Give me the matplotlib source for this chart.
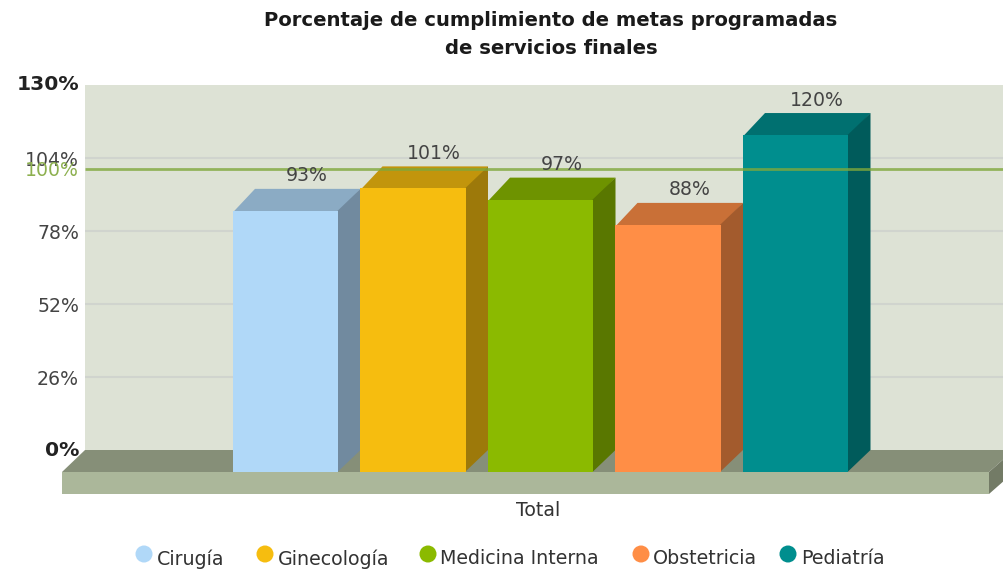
#!/usr/bin/env python

import matplotlib
matplotlib.use('Agg')

import matplotlib.pyplot as plt
import matplotlib.patches as patches
import matplotlib.colors as colors

plt.rcParams['font.family'] = 'DejaVu Sans'

categories = ["Cirugía", "Ginecología", "Medicina Interna", "Obstetricia", "Pediatría"]
values = [93, 101, 97, 88, 120]
bar_colors = ["#b0d8f8", "#f6bd0f", "#8bba00", "#ff8e46", "#008e8e"]
ticks = [0, 26, 52, 78, 104, 130]
target = 100
group_label = "Total"

# pixel layout of the fake 3d chart
W, H = 1004, 570
px_per_pct = 2.808
y0_px = 472          # front of the floor, value 0
depth = 22
bar_left = [233, 360.5, 488, 615.5, 743]
bar_w = 105.5
legend_dot_x = [144, 265, 428, 641, 788]
legend_text_x = [157, 278, 440, 653, 801]


def shade(c, f):
    r, g, b = colors.to_rgb(c)
    return (r * f, g * f, b * f)


fig = plt.figure(figsize=(W / 100, H / 100), dpi=100)
ax = fig.add_axes([0, 0, 1, 1])
ax.set_xlim(0, W)
# y axis is in percent, the bottom/top of the figure come from the pixel scale
ax.set_ylim((y0_px - H) / px_per_pct, y0_px / px_per_pct)
ax.axis('off')

d = depth / px_per_pct
slab = 22 / px_per_pct
wall_left = 85
floor_left, floor_right = 62, 989


def poly(pts, color, z):
    ax.add_patch(patches.Polygon(pts, closed=True, facecolor=color, edgecolor='none', zorder=z))


# wall
ax.add_patch(patches.Rectangle((wall_left, d), W - wall_left, 130, facecolor="#dde2d5",
                               edgecolor='none', zorder=1))
for t in ticks[1:-1]:
    ax.plot([wall_left, W], [t + d, t + d], color="#d0d4ce", lw=1.5, zorder=2, solid_capstyle='butt')

# floor
poly([(floor_left, 0), (wall_left, d), (W + 10, d), (floor_right, 0)], "#868f78", 3)
ax.add_patch(patches.Rectangle((floor_left, -slab), floor_right - floor_left, slab,
                               facecolor="#abb79a", edgecolor='none', zorder=3))
poly([(floor_right, 0), (W + 10, d), (W + 10, d - slab), (floor_right, -slab)], "#737b66", 3)

# bars
ax.bar(bar_left, values, width=bar_w, align='edge', color=bar_colors, zorder=5)
for x, v, c in zip(bar_left, values, bar_colors):
    poly([(x, v - 0.5), (x + depth, v + d), (x + bar_w + depth, v + d), (x + bar_w, v - 0.5)], shade(c, 0.79), 4)
    # start a little under the front face so no light seam shows
    poly([(x + bar_w - 1, 0), (x + bar_w + depth, d), (x + bar_w + depth, v + d), (x + bar_w - 1, v)],
         shade(c, 0.64), 4)
    ax.text(x + bar_w / 2 + depth - 1, v + d + 13 / px_per_pct, "%d%%" % v, ha='center', va='center',
            fontsize=13.6, color="#444444", zorder=7)

# target line goes over the bars
ax.plot([wall_left, W], [target + d, target + d], color="#7fa83c", lw=2, alpha=0.8, zorder=6,
        solid_capstyle='butt')

# tick labels
for t in ticks:
    bold = t in (ticks[0], ticks[-1])
    off = 0 if bold else -2.5 / px_per_pct
    ax.text(79, t + d + off, "%d%%" % t, ha='right', va='center', fontsize=14.6 if bold else 13.6,
            fontweight='bold' if bold else 'normal', color="#222222" if bold else "#444444", zorder=7)
ax.text(79, target + d - 0.3, "%d%%" % target, ha='right', va='center', fontsize=13.6, color="#8db04f", zorder=7)

ax.text(538, (y0_px - 511) / px_per_pct, group_label, ha='center', va='center', fontsize=13.6,
        color="#333333")

fig.text(551 / W, 1 - 20 / H, "Porcentaje de cumplimiento de metas programadas", ha='center', va='center',
         fontsize=14.1, fontweight='bold', color="#1a1a1a")
fig.text(551 / W, 1 - 49 / H, "de servicios finales", ha='center', va='center',
         fontsize=14.1, fontweight='bold', color="#1a1a1a")

# legend
for x, tx, name, c in zip(legend_dot_x, legend_text_x, categories, bar_colors):
    ax.scatter([x], [(y0_px - 554) / px_per_pct], s=150, color=c, edgecolor='none', zorder=7)
    ax.text(tx, (y0_px - 559) / px_per_pct, name, ha='left', va='center', fontsize=13.7, color="#333333")

plt.savefig("out.png", dpi=100)
